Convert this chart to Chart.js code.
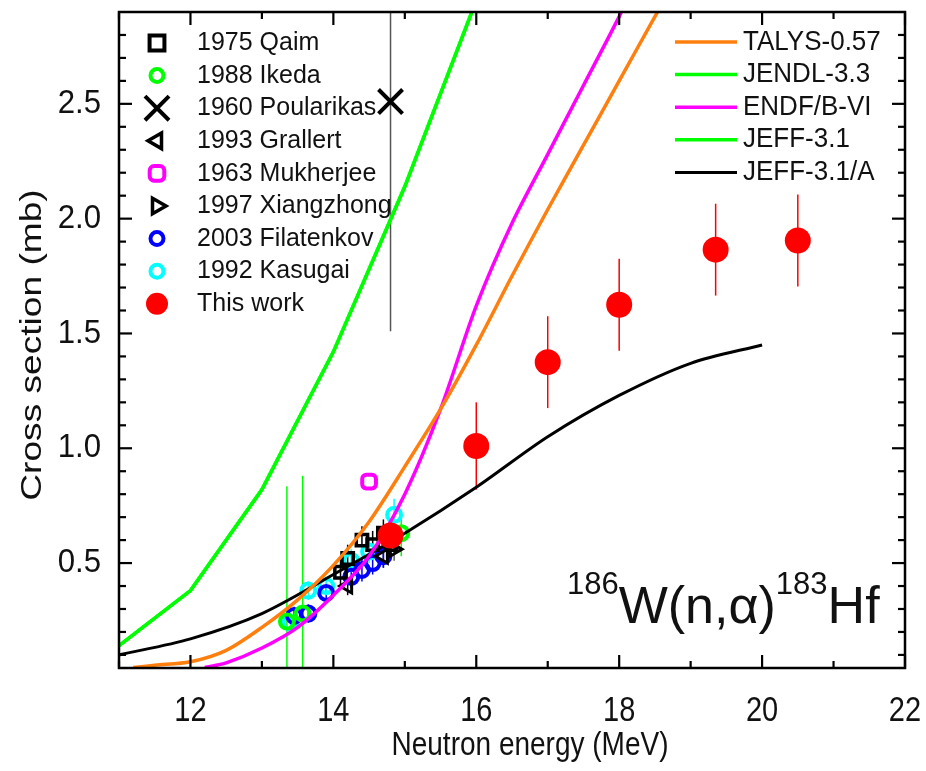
<!DOCTYPE html>
<html><head><meta charset="utf-8">
<script src="https://cdn.jsdelivr.net/npm/chart.js@4.4.1/dist/chart.umd.min.js"></script>
<style>html,body{margin:0;padding:0;background:#fff;overflow:hidden}</style>
</head><body>
<canvas id="c" width="926" height="771"></canvas>
<script>
// ---------- data ----------
const xTicks = [12, 14, 16, 18, 20, 22];
const yTicks = [0.5, 1.0, 1.5, 2.0, 2.5];

const talysE = [11.2, 11.5, 12, 12.5, 13, 13.5, 14, 14.5, 15, 15.5, 16, 16.5, 17, 17.5, 18, 18.5, 18.7];
const talysY = [0.045, 0.055, 0.07, 0.12, 0.22, 0.34, 0.49, 0.68, 0.92, 1.17, 1.45, 1.75, 2.04, 2.32, 2.60, 2.88, 2.99];

const jendlE = [11, 12, 13, 14, 15, 16];
const jendlY = [0.14, 0.38, 0.82, 1.42, 2.14, 2.95];

const endfE = [12.2, 12.5, 13, 13.5, 14, 14.5, 15, 15.5, 16, 16.5, 17, 17.5, 18, 18.1];
const endfY = [0.045, 0.065, 0.13, 0.22, 0.36, 0.53, 0.80, 1.17, 1.62, 1.98, 2.28, 2.58, 2.88, 2.95];

const jeffE = [11, 12, 13, 14, 15, 16];
const jeffY = [0.14, 0.38, 0.82, 1.42, 2.14, 2.95];

const jeffAE = [11, 12, 13, 14, 15, 16, 17, 18, 19, 20];
const jeffAY = [0.10, 0.17, 0.28, 0.45, 0.63, 0.83, 1.05, 1.23, 1.37, 1.45];

const qaimE = [14.1, 14.2, 14.4, 14.55, 14.7, 14.8];
const qaimY = [0.46, 0.52, 0.60, 0.58, 0.63, 0.58];
const qaimErr = [0.06, 0.06, 0.06, 0.06, 0.06, 0.06];

const ikedaE = [13.35, 13.57, 14.95];
const ikedaY = [0.245, 0.28, 0.63];
const ikedaErr = [0.59, 0.60, 0.10];

const poulE = [14.8];
const poulY = [2.51];
const poulErr = [1.0];

const grallE = [14.2, 14.7];
const grallY = [0.40, 0.53];
const grallErr = [0.04, 0.05];

const mukhE = [14.5];
const mukhY = [0.855];

const xiangE = [14.85];
const xiangY = [0.56];
const xiangErr = [0.05];
const xiangXErr = [0.12];

const filaE = [13.45, 13.65, 13.9, 14.25, 14.4, 14.55, 14.7];
const filaY = [0.27, 0.28, 0.37, 0.44, 0.47, 0.50, 0.53];
const filaErr = [0.04, 0.04, 0.04, 0.05, 0.05, 0.05, 0.05];

const kasuE = [13.4, 13.65, 13.9, 14.25, 14.5, 14.85];
const kasuY = [0.24, 0.38, 0.40, 0.51, 0.55, 0.71];
const kasuErr = [0.04, 0.04, 0.04, 0.05, 0.05, 0.07];

const workE = [14.8, 16, 17, 18, 19.35, 20.5];
const workY = [0.62, 1.01, 1.375, 1.625, 1.865, 1.905];
const workErr = [0.03, 0.19, 0.20, 0.20, 0.20, 0.20];

// ---------- helpers ----------
const FONT = "'Liberation Sans', Arial, sans-serif";
const pts = (E, Y) => E.map((e, i) => ({x: e, y: Y[i]}));
const NONE = 'rgba(0,0,0,0)';
const GREEN = '#00ff00', MAG = '#ff00ff', ORANGE = '#ff7f0e', BLUE = '#0000ff', CYAN = '#00ffff', RED = '#ff0000';
const TXT = '#111';

function lineDS(label, E, Y, color, w, tension) {
  return {label, data: pts(E, Y), showLine: true, borderColor: color, borderWidth: w,
    pointRadius: 0, fill: false, tension: tension, order: 1};
}
function markDS(label, E, Y, style, color, radius, bw, rot, bg, order) {
  return {label, data: pts(E, Y), showLine: false, pointStyle: style, pointRadius: radius,
    pointBorderWidth: bw, pointBorderColor: color, pointBackgroundColor: bg || NONE,
    pointRotation: rot || 0, order: order === undefined ? 2 : order};
}

const errorSets = [
  {E: ikedaE, Y: ikedaY, err: ikedaErr, color: GREEN, w: 1.5},
  {E: poulE, Y: poulY, err: poulErr, color: '#555', w: 1.5},
  {E: qaimE, Y: qaimY, err: qaimErr, color: '#000', w: 1.5},
  {E: grallE, Y: grallY, err: grallErr, color: '#000', w: 1.5},
  {E: xiangE, Y: xiangY, err: xiangErr, xerr: xiangXErr, color: '#333', w: 1.2},
  {E: filaE, Y: filaY, err: filaErr, color: BLUE, w: 1.5},
  {E: kasuE, Y: kasuY, err: kasuErr, color: CYAN, w: 1.5},
  {E: workE, Y: workY, err: workErr, color: RED, w: 1.5}
];

const errPlugin = {
  id: 'errbars',
  beforeDatasetsDraw(chart) {
    const {ctx, chartArea: a, scales: {x, y}} = chart;
    ctx.save();
    ctx.beginPath(); ctx.rect(a.left, a.top, a.right - a.left, a.bottom - a.top); ctx.clip();
    errorSets.forEach(s => {
      ctx.strokeStyle = s.color; ctx.lineWidth = s.w;
      s.E.forEach((e, i) => {
        const px = x.getPixelForValue(e);
        ctx.beginPath();
        ctx.moveTo(px, y.getPixelForValue(s.Y[i] - s.err[i]));
        ctx.lineTo(px, y.getPixelForValue(s.Y[i] + s.err[i]));
        ctx.stroke();
        if (s.xerr) {
          const py = y.getPixelForValue(s.Y[i]);
          ctx.beginPath();
          ctx.moveTo(x.getPixelForValue(e - s.xerr[i]), py);
          ctx.lineTo(x.getPixelForValue(e + s.xerr[i]), py);
          ctx.stroke();
        }
      });
    });
    ctx.restore();
  }
};

const leftLegend = [
  {t: '1975 Qaim', style: 'rect', color: '#000', r: 10.5, bw: 4},
  {t: '1988 Ikeda', style: 'circle', color: GREEN, r: 6.5, bw: 4},
  {t: '1960 Poularikas', style: 'crossRot', color: '#000', r: 17, bw: 4},
  {t: '1993 Grallert', style: 'triangle', color: '#000', r: 9, bw: 3.5, rot: -90},
  {t: '1963 Mukherjee', style: 'rectRounded', color: MAG, r: 8.5, bw: 4},
  {t: '1997 Xiangzhong', style: 'triangle', color: '#000', r: 9, bw: 3.5, rot: 90},
  {t: '2003 Filatenkov', style: 'circle', color: BLUE, r: 6.5, bw: 4},
  {t: '1992 Kasugai', style: 'circle', color: CYAN, r: 6.5, bw: 4},
  {t: 'This work', style: 'circle', color: RED, r: 11, bw: 0, fill: RED}
];
const rightLegend = [
  {t: 'TALYS-0.57', color: ORANGE, w: 3.5},
  {t: 'JENDL-3.3', color: GREEN, w: 3.5},
  {t: 'ENDF/B-VI', color: MAG, w: 3.5},
  {t: 'JEFF-3.1', color: GREEN, w: 3.5},
  {t: 'JEFF-3.1/A', color: '#000', w: 3}
];

// stretched text helper
function sText(ctx, txt, x, y, size, sx, sy, align, rot) {
  ctx.save();
  ctx.translate(x, y);
  if (rot) ctx.rotate(rot);
  ctx.scale(sx, sy);
  ctx.font = size + 'px ' + FONT;
  ctx.textAlign = align; ctx.textBaseline = 'middle';
  ctx.fillStyle = TXT;
  ctx.fillText(txt, 0, 0);
  ctx.restore();
}

const decor = {
  id: 'decor',
  afterDraw(chart) {
    const {ctx, chartArea: a, scales: {x, y}} = chart;
    ctx.save();
    // frame
    ctx.strokeStyle = '#000'; ctx.lineWidth = 2.5;
    ctx.strokeRect(a.left, a.top, a.right - a.left, a.bottom - a.top);
    ctx.lineWidth = 2.2;
    const seg = (x1, y1, x2, y2) => { ctx.beginPath(); ctx.moveTo(x1, y1); ctx.lineTo(x2, y2); ctx.stroke(); };
    for (let v = 11; v <= 22; v++) {
      const px = x.getPixelForValue(v);
      const L = (v % 2 === 0) ? 13 : 7;
      seg(px, a.bottom, px, a.bottom - L);
      seg(px, a.top, px, a.top + L);
    }
    for (let i = 1; i <= 29; i++) {
      const py = y.getPixelForValue(i / 10);
      if (py < a.top + 2 || py > a.bottom - 2) continue;
      const L = (i % 5 === 0) ? 13 : 7;
      seg(a.left, py, a.left + L, py);
      seg(a.right, py, a.right - L, py);
    }
    // tick labels
    xTicks.forEach(v => sText(ctx, String(v), x.getPixelForValue(v), 712, 29, 1, 1.18, 'center'));
    yTicks.forEach(v => sText(ctx, v.toFixed(1), 101, y.getPixelForValue(v), 30, 1.04, 1.1, 'right'));
    // axis titles
    sText(ctx, 'Neutron energy (MeV)', 530, 746, 28, 1, 1.18, 'center');
    sText(ctx, 'Cross section (mb)', 33, 345, 29, 1.28, 1.02, 'center', -Math.PI / 2);
    // left legend
    leftLegend.forEach((it, i) => {
      const yy = 43 + 32.6 * i;
      ctx.strokeStyle = it.color; ctx.fillStyle = it.fill || NONE; ctx.lineWidth = it.bw;
      Chart.helpers.drawPoint(ctx, {pointStyle: it.style, radius: it.r, borderWidth: it.bw, rotation: it.rot || 0}, 157, yy);
      sText(ctx, it.t, 197, yy, 25, 1, 1.05, 'left');
    });
    // right legend
    rightLegend.forEach((it, i) => {
      const yy = 42 + 32.6 * i;
      ctx.strokeStyle = it.color; ctx.lineWidth = it.w;
      seg(675, yy, 737, yy);
      sText(ctx, it.t, 743, yy, 26, 1, 1.05, 'left');
    });
    // reaction label
    ctx.fillStyle = TXT;
    ctx.textBaseline = 'alphabetic'; ctx.textAlign = 'left';
    let cx = 567;
    const part = (txt, size, base) => { ctx.font = size + 'px ' + FONT; ctx.fillText(txt, cx, base); cx += ctx.measureText(txt).width; };
    part('186', 31, 594);
    part('W(n,\u03b1)', 52, 623);
    part('183', 31, 594);
    part('Hf', 52, 623);
    ctx.restore();
  }
};

new Chart(document.getElementById('c'), {
  type: 'scatter',
  data: {
    datasets: [
      markDS('This work', workE, workY, 'circle', RED, 13, 0, 0, RED, 0),
      lineDS('TALYS-0.57', talysE, talysY, ORANGE, 3.5, 0.3),
      lineDS('JENDL-3.3', jendlE, jendlY, GREEN, 3.5, 0),
      lineDS('ENDF/B-VI', endfE, endfY, MAG, 3.5, 0.3),
      lineDS('JEFF-3.1', jeffE, jeffY, GREEN, 3.5, 0),
      lineDS('JEFF-3.1/A', jeffAE, jeffAY, '#000', 3, 0.3),
      markDS('1975 Qaim', qaimE, qaimY, 'rect', '#000', 8, 3.5),
      markDS('1988 Ikeda', ikedaE, ikedaY, 'circle', GREEN, 7, 4),
      markDS('1960 Poularikas', poulE, poulY, 'crossRot', '#000', 17, 4),
      markDS('1993 Grallert', grallE, grallY, 'triangle', '#000', 8, 3, -90),
      markDS('1963 Mukherjee', mukhE, mukhY, 'rectRounded', MAG, 8, 4),
      markDS('1997 Xiangzhong', xiangE, xiangY, 'triangle', '#000', 8, 3, 90),
      markDS('2003 Filatenkov', filaE, filaY, 'circle', BLUE, 7, 4),
      markDS('1992 Kasugai', kasuE, kasuY, 'circle', CYAN, 7, 4)
    ]
  },
  options: {
    responsive: false,
    animation: false,
    events: [],
    layout: {autoPadding: false, padding: {left: 0, right: 21, top: 12, bottom: 0}},
    plugins: {legend: {display: false}, tooltip: {enabled: false}},
    scales: {
      x: {
        type: 'linear', min: 11, max: 22,
        grid: {display: false, drawTicks: false},
        border: {display: false},
        afterFit(s) { s.height = 103; s.paddingLeft = 0; s.paddingRight = 0; },
        afterBuildTicks(s) { s.ticks = xTicks.map(v => ({value: v})); },
        ticks: {display: false}
      },
      y: {
        type: 'linear', min: 0.043, max: 2.9,
        grid: {display: false, drawTicks: false},
        border: {display: false},
        afterFit(s) { s.width = 119; s.paddingTop = 0; s.paddingBottom = 0; },
        afterBuildTicks(s) { s.ticks = yTicks.map(v => ({value: v})); },
        ticks: {display: false}
      }
    }
  },
  plugins: [errPlugin, decor]
});
</script>
</body></html>
